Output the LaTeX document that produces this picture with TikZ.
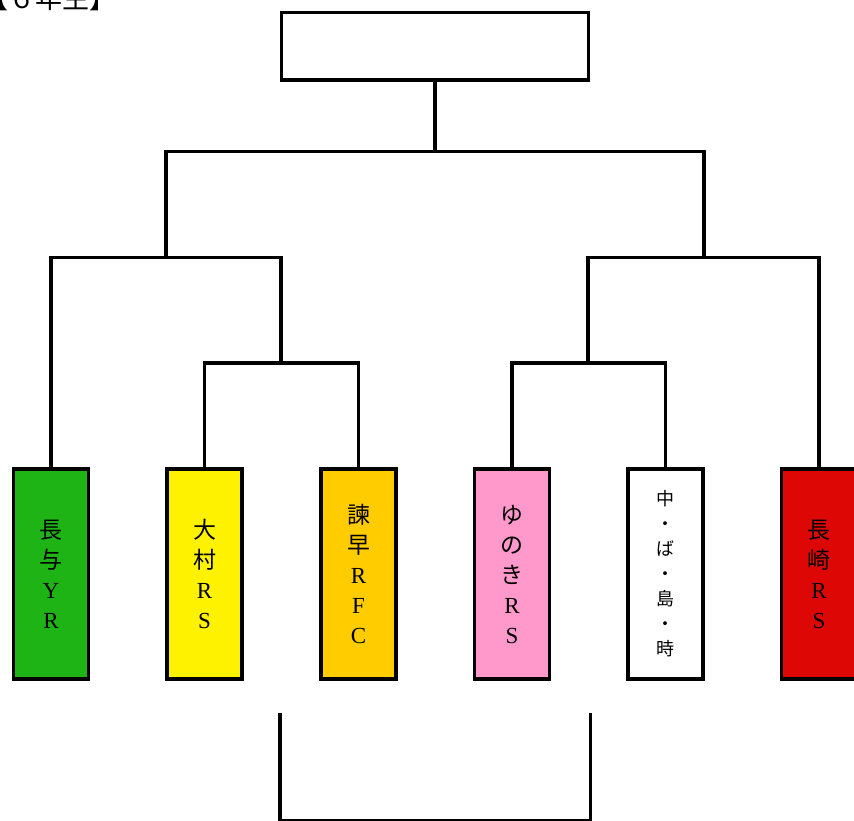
\documentclass[tikz,border=0pt]{standalone}
\usepackage{fontspec}
\setmainfont{Liberation Serif}
\newfontfamily\cjk{Noto Sans CJK JP}
\definecolor{tgreen}{RGB}{31,180,21}
\definecolor{tyellow}{RGB}{255,242,0}
\definecolor{torange}{RGB}{255,204,0}
\definecolor{tpink}{RGB}{255,153,204}
\definecolor{tred}{RGB}{221,8,6}
\begin{document}
\begin{tikzpicture}[x=1pt,y=-1pt,
  line width=3.3pt, line join=miter,
  team/.style={draw, line width=3.3pt, minimum width=75pt, minimum height=210pt,
    inner sep=0pt, align=center, font=\fontsize{23}{30}\selectfont},
  smallteam/.style={team, font=\fontsize{18}{25}\selectfont},
  slot/.style={draw, line width=3.3pt, minimum width=307pt, minimum height=67.5pt, inner sep=0pt},
  openslot/.style={minimum width=307pt, minimum height=104pt, inner sep=0pt},
  title/.style={anchor=base west, inner sep=0pt, font=\cjk\fontsize{27}{27}\selectfont}]
\useasboundingbox (0,0) rectangle (854,821);
\clip (0,0) rectangle (854,821);

\node[title] (ttl) at (-20.5,9) {【６年生】};

\node[slot] (top) at (435,46.25) {};
\node[openslot] (final) at (435,767) {};

\node[team, fill=tgreen]  (t1) at (51,574)    {{\cjk 長}\\{\cjk 与}\\Y\\R};
\node[team, fill=tyellow] (t2) at (204.5,574) {{\cjk 大}\\{\cjk 村}\\R\\S};
\node[team, fill=torange] (t3) at (358.5,574) {{\cjk 諫}\\{\cjk 早}\\R\\F\\C};
\node[team, fill=tpink]   (t4) at (512,574)   {{\cjk ゆ}\\{\cjk の}\\{\cjk き}\\R\\S};
\node[smallteam, fill=white] (t5) at (665.5,574) {{\cjk 中}\\{\cjk ・}\\{\cjk ば}\\{\cjk ・}\\{\cjk 島}\\{\cjk ・}\\{\cjk 時}};
\node[team, fill=tred]    (t6) at (819,574)   {{\cjk 長}\\{\cjk 崎}\\R\\S};

\coordinate (sf) at (435,151.5);
\coordinate (ls) at (166,257.3);
\coordinate (rs) at (704,257.3);
\coordinate (lq) at (281,363);
\coordinate (rq) at (588,363);

\draw (top.south) -- (sf);
\draw (ls) -- (ls |- sf) -- (rs |- sf) -- (rs);
\draw (t1.north) -- (t1.north |- ls) -- (lq |- ls) -- (lq);
\draw (t2.north) -- (t2.north |- lq) -- (t3.north |- lq) -- (t3.north);
\draw (t6.north) -- (t6.north |- rs) -- (rq |- rs) -- (rq);
\draw (t4.north) -- (t4.north |- rq) -- (t5.north |- rq) -- (t5.north);

\draw (final.north west) -- (final.south west) -- (final.south east) -- (final.north east);
\end{tikzpicture}
\end{document}
